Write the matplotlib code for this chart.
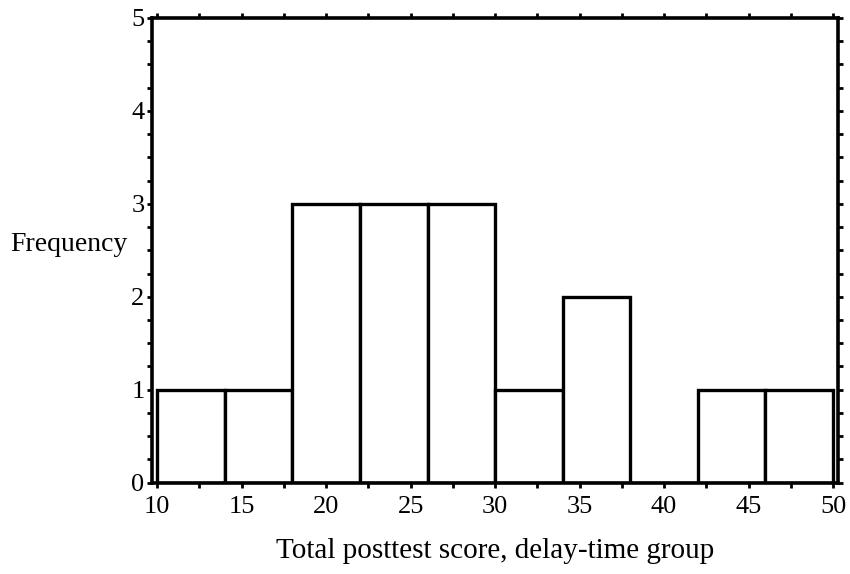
import numpy as np
import matplotlib.pyplot as plt
from matplotlib.ticker import MultipleLocator

# bin edges and counts
bin_edges = [10, 14, 18, 22, 26, 30, 34, 38, 42, 46, 50]
counts = [1, 1, 3, 3, 3, 1, 2, 0, 1, 1]
x_ticks = [10, 15, 20, 25, 30, 35, 40, 45, 50]
y_ticks = [0, 1, 2, 3, 4, 5]

plt.rcParams['font.family'] = ['Liberation Serif', 'DejaVu Serif']

fig = plt.figure(figsize=(8.5, 5.74), dpi=100)
ax = fig.add_axes([0.179, 0.159, 0.807, 0.81])

widths = np.diff(bin_edges)
ax.bar(bin_edges[:-1], counts, width=widths, align='edge',
       facecolor='white', edgecolor='black', linewidth=2.4)

ax.set_xlim(9.7, 50.3)
ax.set_ylim(0, 5)
ax.set_xticks(x_ticks)
ax.set_yticks(y_ticks)
ax.xaxis.set_minor_locator(MultipleLocator(2.5))
ax.yaxis.set_minor_locator(MultipleLocator(0.25))

for s in ax.spines.values():
    s.set_linewidth(2.6)

ax.tick_params(which='both', direction='out', top=True, right=True,
               length=3.5, width=2, labelsize=19)
ax.tick_params(axis='x', pad=6)
ax.tick_params(axis='y', pad=2)

fig.text(10 / 850, 1 - 245 / 574, 'Frequency', ha='left', va='center', fontsize=20)
fig.text(495 / 850, 1 - 551 / 574, 'Total posttest score, delay-time group',
         ha='center', va='center', fontsize=21)

fig.savefig('out.png', dpi=100)
